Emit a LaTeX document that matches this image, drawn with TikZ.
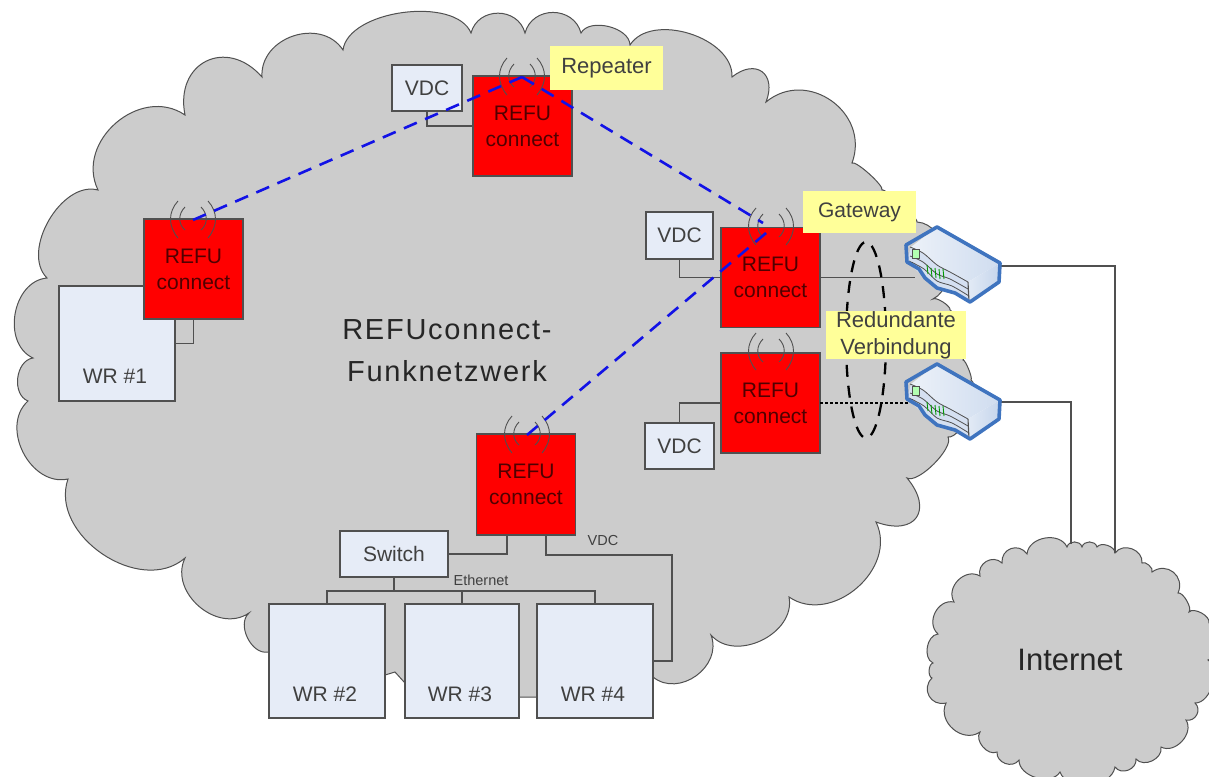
\documentclass[tikz,border=0pt]{standalone}
\usepackage{fontspec}
\setmainfont{Liberation Sans}
\usetikzlibrary{calc,shapes.geometric}
\definecolor{cloudgray}{HTML}{CCCCCC}
\definecolor{edgegray}{HTML}{505050}
\definecolor{paleblue}{HTML}{E6ECF7}
\definecolor{notey}{HTML}{FFFF99}
\definecolor{txt}{HTML}{404040}
\definecolor{reddark}{HTML}{500000}
\definecolor{linkblue}{HTML}{1212E6}
\definecolor{routerblue}{HTML}{3F74BF}
\newcommand{\fs}[1]{\fontsize{#1}{#1}\selectfont}
\tikzset{
  bu/.style={bend left=75,looseness=#1},
  bur/.style={bend right=75,looseness=#1},
  cloudshape/.style={fill=cloudgray,draw=edgegray,line width=1pt,line join=miter},
  wire/.style={draw=edgegray,line width=1.2pt},
  paleb/.style={draw=edgegray,fill=paleblue,line width=1.2pt,inner sep=0pt,outer sep=0pt,text=txt,font=\fs{21}},
  refu/.style={draw=edgegray,fill=red,line width=1.2pt,minimum width=99pt,minimum height=100pt,inner sep=0pt,outer sep=0pt,
     text=reddark,font=\fs{21},align=center},
  note/.style={fill=notey,inner sep=0pt,outer sep=0pt,text=txt,font=\fs{21},align=center},
  link/.style={draw=linkblue,line width=2.6pt,dash pattern=on 14pt off 9pt},
  antenna/.pic={
    \draw[edgegray,line width=.9pt] (-15,-19) .. controls (-25,-8) and (-25,6) .. (-15,18);
    \draw[edgegray,line width=.9pt] (-8,-13) .. controls (-15,-6) and (-15,4) .. (-8,10);
    \draw[edgegray,line width=.9pt] (15,-19) .. controls (25,-8) and (25,6) .. (15,18);
    \draw[edgegray,line width=.9pt] (8,-13) .. controls (15,-6) and (15,4) .. (8,10);
  },
  router/.pic={
    \path[left color=white!90!routerblue,right color=white!75!routerblue]
      (-26,20) -- (0,0) -- (63,36) -- (31,55) -- (13,45) -- (0,38) -- (-14,26) -- cycle;
    \path[left color=white!85!routerblue,right color=white!70!routerblue]
      (31,55) -- (63,36) -- (62,55) -- (32,75) -- cycle;
    \path[fill=white!78!routerblue]
      (-26,20) -- (-14,26) -- (0,38) -- (13,45) -- (31,55) -- (32,75) -- (18,66) -- (0,61) -- (-12,51) -- (-30,35) -- cycle;
    \draw[edgegray,line width=.8pt] plot[smooth] coordinates {(-27,20) (-14,26) (0,38) (13,45) (31,55)};
    \draw[edgegray,line width=.8pt] plot[smooth] coordinates {(-27,29) (-14,35) (0,47) (13,52) (31,62)};
    \draw[edgegray,line width=.8pt] plot[smooth] coordinates {(-28,34) (-13,42) (0,54) (15,59) (32,69)};
    \draw[edgegray,line width=1.1pt] (31,55) -- (32,75);
    \draw[edgegray,line width=.9pt,fill=white!70!green] (-25,22) rectangle (-18,31);
    \draw[black!70,line width=.9pt] (-30,24) -- (-30,35) -- (-24,35);
    \draw[green!60!black,line width=.9pt] (-10,38) -- (-9,47) (-6,41) -- (-5,50) (-2,41) -- (-1,51) (2,42) -- (3,52) (6,42) -- (7,52);
    \draw[routerblue,line width=3.6pt,line join=round]
      (0,0) -- (63,36) -- (62,55) -- (33,75) -- (18,66) -- (0,61) -- (-12,51) -- (-18,42) -- (-30,35) -- (-31,18) -- cycle;
  }
}
\begin{document}
\begin{tikzpicture}[x=1pt,y=-1pt]
\useasboundingbox (0,0) rectangle (1209,776);
\fill[white] (0,0) rectangle (1209,776);
% large cloud
\path[cloudshape] (47,278)
 to[bu=0.95] (98,190)
 to[bu=1.2] (185,115)
 to[bu=1.6] (262,77)
 to[bu=1.2] (343,50)
 to[bu=0.8] (471,33)
 to[bu=1.3] (525,33)
 to[bu=1.3] (581,33)
 to[bu=0.9] (630,45)
 to[bu=0.95] (732,77)
 to[bu=1.85] (766,102)
 to[bu=1.3] (852,163)
 to[bu=0.3] (882,190)
 to[bu=0.2] (917,222)
 to[bu=1] (933,299)
 to[bu=0.5] (950,310)
 to[bu=0.2] (963,360)
 to[bu=0.3] (971,380)
 to[bu=0.6] (948,437)
 to[bu=0.55] (907,478)
 to[bu=2] (876,522)
 to[bu=1.15] (789,597)
 to[bu=1.1] (711,635)
 to[bu=1.2] (653,677)
 -- (640,697) -- (519,697) -- (405,683) -- (395,672) -- (385,675) -- (268,652)
 to[bu=1] (249,613)
 to[bu=1.15] (185,558)
 to[bu=1.07] (68,479)
 to[bu=1.12] (28,401)
 to[bu=1.05] (33,358)
 to[bu=1.1] (47,278)
 -- cycle;
% internet cloud
\path[cloudshape] (1002,563)
 to[bur=1.3] (980,576)
 to[bur=1.2] (954,602)
 to[bur=1.2] (938,634)
 to[bur=1] (933,663)
 to[bur=.8] (932,678)
 to[bur=1.4] (946,703)
 to[bur=1.2] (980,732)
 to[bur=1] (997,752)
 to[bur=1.2] (1019,760)
 to[bur=1] (1060,772)
 to[bur=1] (1115,767)
 to[bur=1.2] (1136,759)
 to[bur=1.1] (1161,747)
 to[bur=1.1] (1186,720)
 to[bur=1.3] (1195,703)
 to[bur=.9] (1208,660)
 to[bur=.9] (1209,623)
 to[bur=.8] (1189,612)
 to[bur=.6] (1178,593)
 to[bur=1.4] (1152,572)
 to[bur=.8] (1142,563)
 to[bur=1.2] (1115,553)
 to[bur=.9] (1097,547)
 to[bur=1.2] (1082,547)
 to[bur=1.2] (1067,547)
 to[bur=1.1] (1027,554)
 to[bur=1.4] (1002,563)
 -- cycle;
% boxes
\node[paleb,minimum width=116pt,minimum height=115pt] (wr1) at (117,343.5) {};
\node[paleb,minimum width=116pt,minimum height=114pt] (wr2) at (327,661) {};
\node[paleb,minimum width=114pt,minimum height=114pt] (wr3) at (462,661) {};
\node[paleb,minimum width=116pt,minimum height=114pt] (wr4) at (595,661) {};
\node[refu] (refu1) at (193.5,269) {REFU\\[5pt]connect};
\node[refu] (refu2) at (522.5,126) {REFU\\[5pt]connect};
\node[refu] (refu3) at (770.5,277.5) {REFU\\[5pt]connect};
\node[refu] (refu4) at (770.5,403) {REFU\\[5pt]connect};
\node[refu,minimum height=101pt] (refu5) at (526,484.5) {REFU\\[5pt]connect};
\node[paleb,minimum width=70pt,minimum height=46pt] (vdc1) at (427,88) {VDC};
\node[paleb,minimum width=67pt,minimum height=47pt] (vdc2) at (679.5,235.5) {VDC};
\node[paleb,minimum width=69pt,minimum height=46pt] (vdc3) at (679.5,446) {VDC};
\node[paleb,minimum width=108pt,minimum height=46pt] (switch) at (394,554) {Switch};
\node[text=txt,font=\fs{21}] (wr1t) at (115,376) {WR \#1};
\node[text=txt,font=\fs{21}] (wr2t) at (325,694) {WR \#2};
\node[text=txt,font=\fs{21}] (wr3t) at (460,694) {WR \#3};
\node[text=txt,font=\fs{21}] (wr4t) at (593,694) {WR \#4};
% free-end coordinates
\coordinate (bus) at (394,591);
\coordinate (vdcturn) at (672,555);
\coordinate (r1w) at (915,277.5);
\coordinate (r2w) at (908,403);
\coordinate (r1e) at (1000,266);
\coordinate (r2e) at (1000,402);
\coordinate (net1) at (1115,553);
\coordinate (net2) at (1071,544);
\coordinate (a1) at (193,220);
\coordinate (a2) at (522,77);
\coordinate (a3) at (771,227);
\coordinate (a3a) at (763,223);
\coordinate (a3b) at (772,228);
\coordinate (a4) at (771,352);
\coordinate (a5) at (527,435);
\coordinate (router1) at (937,227);
\coordinate (router2) at (937,364);
% connectors
\draw[wire] (vdc1.south) |- (refu2.west);
\draw[wire] (refu1.south) |- (wr1.east);
\draw[wire] (vdc2.south) |- (refu3.west);
\draw[wire] (vdc3.north) |- (refu4.west);
\draw[wire] (refu3.east) -- (r1w);
\draw[black,line width=2pt,dash pattern=on 2.5pt off 2.5pt] (refu4.east) -- (r2w);
\draw[wire] (r1e) -| (net1);
\draw[wire] (r2e) -| (net2);
\draw[wire] ($(refu5.south)+(-19,0)$) |- (switch.east);
\draw[wire] ($(refu5.south)+(20,0)$) |- (vdcturn) |- (wr4.east);
\draw[edgegray,line width=2.2pt] (switch.south) -- (bus);
\draw[wire] (wr2.north) |- (bus) -| (wr4.north);
\draw[wire] (wr3.north) -- (wr3.north |- bus);
% redundant ellipse
\node[draw=black,line width=2.3pt,dash pattern=on 12pt off 9pt,ellipse,minimum width=40pt,minimum height=196pt,inner sep=0pt] (ring) at (866,340) {};
% antennas
\pic at (a1) {antenna};
\pic at (a2) {antenna};
\pic at (a3) {antenna};
\pic at (a4) {antenna};
\pic at (a5) {antenna};
% routers
\pic at (router1) {router};
\pic at (router2) {router};
% notes
\node[note,minimum width=113pt,minimum height=44pt] (repeater) at (606.5,68) {\fs{22}Repeater};
\node[note,minimum width=113pt,minimum height=42pt] (gateway) at (859.5,212) {Gateway};
\node[note,minimum width=140pt,minimum height=48pt,font=\fontsize{22}{27}\selectfont] (redund) at (896,335) {Redundante\\Verbindung};
% radio links
\draw[link] (a1) -- (a2);
\draw[link] (a2) -- (a3a);
\draw[link] (a5) -- (a3b);
% texts
\node[text=black!85,align=center,font=\fontsize{29}{42}\selectfont\addfontfeature{LetterSpace=6}] (title) at (447,351) {REFUconnect-\\Funknetzwerk};
\node[text=black!85,font=\fs{31}] (net) at (1070,660) {Internet};
\node[text=txt,font=\fs{14.5}] (vdclab) at (603,541) {VDC};
\node[text=txt,font=\fs{14.5}] (ethlab) at (481,580) {Ethernet};
\end{tikzpicture}
\end{document}
